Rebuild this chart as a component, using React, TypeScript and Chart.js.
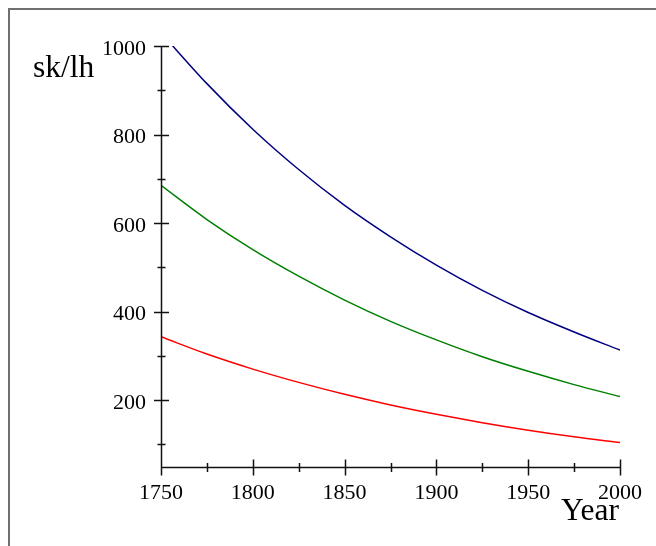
import React, { useEffect, useRef } from "react";
import { Chart, registerables } from "chart.js";

Chart.register(...registerables);

const years = [1750, 1775, 1800, 1825, 1850, 1875, 1900, 1925, 1950, 1975, 2000];
const blueSeries = [1030, 915, 812, 721, 640, 569, 505, 448, 398, 354, 313];
const greenSeries = [685, 608, 540, 480, 426, 378, 336, 298, 265, 235, 208];
const redSeries = [343, 304, 270, 240, 213, 189, 168, 149, 132, 117, 104];

const xMajorTicks = [1750, 1800, 1850, 1900, 1950, 2000];
const xMinorTicks = [1775, 1825, 1875, 1925, 1975];
const yMajorTicks = [200, 400, 600, 800, 1000];
const yMinorTicks = [100, 300, 500, 700, 900];

const yLabel = "sk/lh";
const xLabel = "Year";

const FONT = "'Liberation Serif', 'Times New Roman', serif";

const axesPlugin = {
  id: "mapleAxes",
  afterDraw(chart: any) {
    const { ctx } = chart;
    const xs = chart.scales.x;
    const ys = chart.scales.y;
    const x0 = Math.round(xs.getPixelForValue(xs.min)) + 0.5;
    const yb = Math.round(ys.getPixelForValue(ys.min)) + 0.5;
    const yTop = Math.round(ys.getPixelForValue(ys.max)) + 0.5;
    const xRight = Math.round(xs.getPixelForValue(xs.max)) + 0.5;
    ctx.save();
    ctx.strokeStyle = "#111";
    ctx.lineWidth = 1.5;
    ctx.beginPath();
    ctx.moveTo(x0, yTop);
    ctx.lineTo(x0, yb);
    ctx.moveTo(x0, yb);
    ctx.lineTo(xRight, yb);
    yMajorTicks.forEach((v) => {
      const p = Math.round(ys.getPixelForValue(v)) + 0.5;
      ctx.moveTo(x0 - 7.5, p);
      ctx.lineTo(x0 + 7.5, p);
    });
    yMinorTicks.forEach((v) => {
      const p = Math.round(ys.getPixelForValue(v)) + 0.5;
      ctx.moveTo(x0 - 4, p);
      ctx.lineTo(x0 + 4, p);
    });
    xMajorTicks.forEach((v) => {
      const p = Math.round(xs.getPixelForValue(v)) + 0.5;
      ctx.moveTo(p, yb - 8);
      ctx.lineTo(p, yb + 8);
    });
    xMinorTicks.forEach((v) => {
      const p = Math.round(xs.getPixelForValue(v)) + 0.5;
      ctx.moveTo(p, yb - 4.5);
      ctx.lineTo(p, yb + 4.5);
    });
    ctx.stroke();
    ctx.restore();
  },
};

export default function App() {
  const canvasRef = useRef<HTMLCanvasElement | null>(null);

  useEffect(() => {
    const canvas = canvasRef.current;
    if (!canvas) return;
    const mk = (vals: number[]) => years.map((yr, i) => ({ x: yr, y: vals[i] }));
    const common = {
      borderWidth: 1.5,
      pointRadius: 0,
      fill: false,
      cubicInterpolationMode: "monotone" as const,
    };
    const chart = new Chart(canvas, {
      type: "line",
      data: {
        datasets: [
          { label: "blue", data: mk(blueSeries), borderColor: "#000080", ...common },
          { label: "green", data: mk(greenSeries), borderColor: "#008000", ...common },
          { label: "red", data: mk(redSeries), borderColor: "#ff0000", ...common },
        ],
      },
      options: {
        animation: false,
        responsive: false,
        devicePixelRatio: 1,
        layout: { padding: { left: 0, top: 46, right: 35, bottom: 0 } },
        plugins: { legend: { display: false }, tooltip: { enabled: false } },
        scales: {
          x: {
            type: "linear",
            min: 1750,
            max: 2000,
            grid: { display: false, drawTicks: false },
            border: { display: false },
            afterBuildTicks: (s: any) => {
              s.ticks = xMajorTicks.map((v) => ({ value: v }));
            },
            afterFit: (s: any) => {
              s.height = 79.5;
            },
            ticks: {
              padding: 14,
              color: "#000",
              maxRotation: 0,
              font: { family: FONT, size: 22 },
              callback: (v: any) => String(v),
            },
          },
          y: {
            type: "linear",
            min: 50,
            max: 1000,
            grid: { display: false, drawTicks: false },
            border: { display: false },
            afterBuildTicks: (s: any) => {
              s.ticks = yMajorTicks.map((v) => ({ value: v }));
            },
            afterFit: (s: any) => {
              s.width = 161;
            },
            ticks: {
              padding: 15,
              color: "#000",
              labelOffset: 3,
              font: { family: FONT, size: 22 },
              callback: (v: any) => String(v),
            },
          },
        },
      },
      plugins: [axesPlugin],
    });
    return () => chart.destroy();
  }, []);

  return (
    <div style={{ position: "fixed", left: 0, top: 0, width: 656, height: 546, overflow: "hidden", background: "#fff" }}>
      <div
        style={{
          position: "absolute",
          left: 8,
          top: 8,
          right: 0,
          bottom: 0,
          borderTop: "2px solid #707070",
          borderLeft: "2px solid #707070",
        }}
      />
      <canvas ref={canvasRef} width={656} height={546} style={{ position: "absolute", left: 0, top: 0 }} />
      <div style={{ position: "absolute", left: 33, top: 50.5, fontFamily: FONT, fontSize: 31.5, lineHeight: "31.5px", color: "#000", whiteSpace: "nowrap" }}>
        {yLabel}
      </div>
      <div style={{ position: "absolute", left: 561, top: 493.5, fontFamily: FONT, fontSize: 31.5, lineHeight: "31.5px", color: "#000", whiteSpace: "nowrap" }}>
        {xLabel}
      </div>
    </div>
  );
}
